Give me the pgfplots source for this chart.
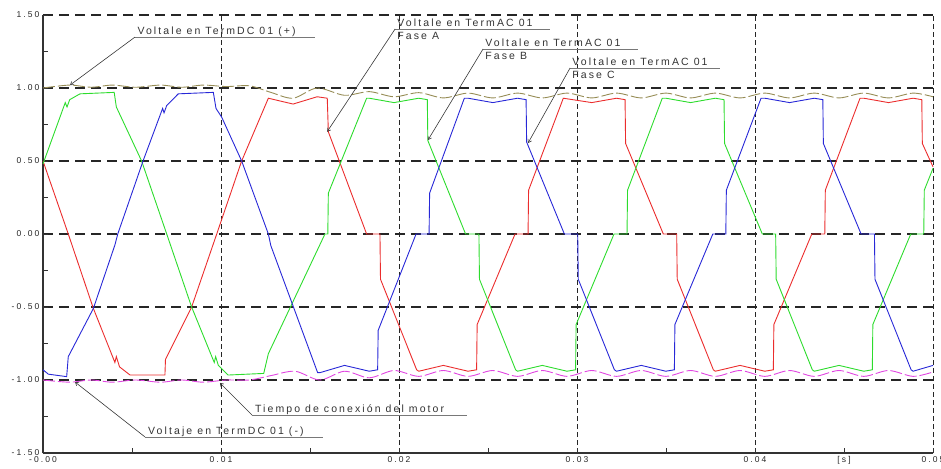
\documentclass[border=0pt]{standalone}
\usepackage{pgfplots}
\pgfplotsset{compat=1.18}
\usepackage{fontspec}
\setmainfont{Liberation Sans}
\newfontfamily\annfont{Liberation Sans}[LetterSpace=20]
\newfontfamily\tickfont{Liberation Sans}[LetterSpace=25]
\usetikzlibrary{arrows.meta}
\definecolor{ph1}{RGB}{235,45,45}
\definecolor{ph2}{RGB}{45,220,45}
\definecolor{ph3}{RGB}{40,40,215}
\definecolor{dcp}{RGB}{150,140,85}
\definecolor{dcm}{RGB}{225,70,225}
\definecolor{ann}{RGB}{55,55,55}
\definecolor{und}{RGB}{120,120,120}

\begin{document}
\begin{tikzpicture}
\begin{axis}[
 at={(0,0)}, anchor=south west,
 scale only axis, width=890pt, height=438pt,
 xmin=0, xmax=0.05, ymin=-1.5, ymax=1.5,
 axis lines*=left,
 axis line style={line width=1.2pt, black!80},
 xtick={0,0.01,0.02,0.03,0.04,0.05},
 xticklabels={-0.00,0.01,0.02,0.03,0.04,0.05},
 ytick={-1.5,-1,-0.5,0,0.5,1,1.5},
 yticklabels={-1.50,-1.00,-0.50,0.00,0.50,1.00,1.50},
 minor x tick num=1, minor y tick num=1,
 tick align=inside, major tick length=5pt, minor tick length=5pt,
 tick style={black!80, line width=0.8pt},
 xmajorgrids, ymajorgrids,
 x grid style={black!85, line width=1pt, dash pattern=on 5pt off 3pt},
 y grid style={black!85, line width=1.3pt, dash pattern=on 10pt off 6pt},
 ticklabel style={font=\tickfont\fontsize{8.5}{10}\selectfont, text=black!85},
 extra x ticks={0.045}, extra x tick labels={{[s]}},
 extra x tick style={grid=none},
 clip=false,
]
% DC+ 
\addplot[dcp, line width=0.9pt, dash pattern=on 12pt off 3pt, smooth, tension=0.5] coordinates {
(0,1.00)(0.0015,1.02)(0.0027,1.005)(0.0039,1.02)(0.0052,1.005)(0.0066,1.02)(0.0078,1.005)(0.009,1.02)(0.0103,1.01)(0.0116,1.015)(0.0128,0.97)(0.01405,0.93)(0.0154,1.00)(0.01694,0.95)(0.01833,0.975)(0.01972,0.94)(0.02111,0.968)
(0.02249,0.932)(0.02388,0.965)(0.02527,0.932)(0.02666,0.965)(0.02805,0.932)(0.02944,0.965)(0.03083,0.932)(0.03222,0.965)(0.03361,0.932)(0.03499,0.965)(0.03638,0.932)(0.03777,0.965)(0.03916,0.932)(0.04055,0.965)(0.04194,0.932)(0.04333,0.965)(0.04472,0.932)(0.04611,0.965)(0.0475,0.932)(0.04888,0.965)(0.05,0.94)
};
% DC-
\addplot[dcm, line width=0.9pt, dash pattern=on 12pt off 3pt, smooth, tension=0.5] coordinates {
(0,-1.00)(0.0015,-1.015)(0.0027,-1.0)(0.0039,-1.015)(0.0052,-1.0)(0.0066,-1.015)(0.0078,-1.0)(0.009,-1.015)(0.0103,-1.0)(0.0116,-1.0)(0.0128,-0.97)(0.01416,-0.94)(0.01555,-1.0)(0.01694,-0.94)(0.01833,-0.985)(0.01972,-0.935)(0.02111,-0.975)
(0.02249,-0.935)(0.02388,-0.975)(0.02527,-0.935)(0.02666,-0.975)(0.02805,-0.935)(0.02944,-0.975)(0.03083,-0.935)(0.03222,-0.975)(0.03361,-0.935)(0.03499,-0.975)(0.03638,-0.935)(0.03777,-0.975)(0.03916,-0.935)(0.04055,-0.975)(0.04194,-0.935)(0.04333,-0.975)(0.04472,-0.935)(0.04611,-0.975)(0.0475,-0.935)(0.04888,-0.975)(0.05,-0.945)
};
% Fase A (red)
\addplot[ph1, line width=0.9pt] coordinates {
(0,0.50)(0.00142,0.00)(0.00283,-0.51)(0.00404,-0.88)(0.00412,-0.84)(0.0043,-0.91)(0.00489,-0.966)(0.00685,-0.966)(0.00688,-0.86)(0.00835,-0.50)(0.00976,0.00)(0.01116,0.50)(0.01266,0.93)(0.01405,0.89)(0.0154,0.94)(0.01597,0.93)(0.01603,0.70)(0.01818,0.00)(0.01893,0.00)(0.01896,-0.31)(0.02099,-0.93)
(0.02111,-0.94)(0.02249,-0.90)(0.02388,-0.94)(0.02436,-0.93)(0.02439,-0.62)(0.02652,0)(0.02725,0)(0.02728,0.30)(0.02923,0.93)(0.03083,0.90)(0.03222,0.93)(0.0327,0.92)(0.03273,0.62)(0.03485,0)(0.0356,0)(0.03563,-0.31)(0.03766,-0.93)
(0.03777,-0.94)(0.03916,-0.90)(0.04055,-0.94)(0.04103,-0.93)(0.04106,-0.62)(0.04319,0)(0.04392,0)(0.04395,0.30)(0.0459,0.93)(0.04611,0.93)(0.0475,0.90)(0.04888,0.93)(0.04937,0.92)(0.0494,0.62)(0.05,0.46)
};
% Fase B (green)
\addplot[ph2, line width=0.9pt] coordinates {
(0,0.48)(0.00125,0.90)(0.00135,0.87)(0.0015,0.92)(0.00208,0.96)(0.0040,0.97)(0.00412,0.87)(0.00554,0.50)(0.00695,0.00)(0.00835,-0.50)(0.00962,-0.88)(0.0097,-0.84)(0.00985,-0.90)(0.0104,-0.966)(0.0124,-0.955)(0.01266,-0.82)(0.01584,0)(0.016,0)(0.01603,0.28)(0.01818,0.93)
(0.01833,0.93)(0.01972,0.90)(0.02111,0.93)(0.02159,0.92)(0.02162,0.64)(0.02374,0)(0.02449,0)(0.02452,-0.31)(0.02655,-0.93)(0.02666,-0.94)(0.02805,-0.90)(0.02944,-0.94)(0.02992,-0.93)(0.02995,-0.62)(0.03208,0)(0.03281,0)(0.03284,0.30)(0.03479,0.93)
(0.03499,0.93)(0.03638,0.90)(0.03777,0.93)(0.03826,0.92)(0.03829,0.62)(0.04041,0)(0.04116,0)(0.04119,-0.31)(0.04322,-0.93)(0.04333,-0.94)(0.04472,-0.90)(0.04611,-0.94)(0.04659,-0.93)(0.04662,-0.62)(0.04875,0)(0.04948,0)(0.04951,0.30)(0.05,0.45)
};
% Fase C (blue)
\addplot[ph3, line width=0.9pt] coordinates {
(0,-0.93)(0.0003,-0.96)(0.00133,-0.977)(0.00142,-0.84)(0.00283,-0.51)(0.00404,-0.075)(0.0042,0)(0.00562,0.50)(0.00672,0.86)(0.0068,0.83)(0.00695,0.88)(0.0076,0.96)(0.00957,0.97)(0.00972,0.86)(0.01004,0.80)(0.01116,0.50)(0.01266,0)(0.0128,-0.08)(0.01543,-0.95)
(0.01555,-0.95)(0.01694,-0.90)(0.01833,-0.94)(0.0188,-0.93)(0.01883,-0.66)(0.02096,0)(0.02169,0)(0.02172,0.28)(0.02367,0.93)(0.02388,0.93)(0.02527,0.90)(0.02666,0.93)(0.02714,0.92)(0.02717,0.63)(0.02929,0)(0.03004,0)(0.03007,-0.31)(0.0321,-0.93)
(0.03222,-0.94)(0.03361,-0.90)(0.03499,-0.94)(0.03547,-0.93)(0.0355,-0.62)(0.03763,0)(0.03836,0)(0.03839,0.30)(0.04034,0.93)(0.04055,0.93)(0.04194,0.90)(0.04333,0.93)(0.04381,0.92)(0.04384,0.62)(0.04596,0)(0.04671,0)(0.04674,-0.31)(0.04877,-0.93)(0.04888,-0.94)(0.05,-0.90)
};
% annotations
\tikzset{lead/.style={ann, line width=0.6pt, -{Straight Barb[length=3pt,width=4pt]}},
 ul/.style={und, line width=0.8pt},
 lab/.style={anchor=base west, inner sep=0pt, text=black!80, font=\annfont\fontsize{10.5}{12}\selectfont}}
% DC+
\draw[ul] (axis cs:0.00517,1.349) -- (axis cs:0.01528,1.349);
\node[lab] at (axis cs:0.0053,1.363) {Voltale en TermDC 01 (+)};
\draw[lead] (axis cs:0.00517,1.349) -- (axis cs:0.00152,1.02);
% Fase A
\draw[ul] (axis cs:0.01978,1.404) -- (axis cs:0.02848,1.404);
\node[lab] at (axis cs:0.0199,1.418) {Voltale en TermAC 01};
\node[lab] at (axis cs:0.0199,1.329) {Fase A};
\draw[lead] (axis cs:0.01978,1.404) -- (axis cs:0.01596,0.70);
% Fase B
\draw[ul] (axis cs:0.02472,1.267) -- (axis cs:0.03343,1.267);
\node[lab] at (axis cs:0.02484,1.281) {Voltale en TermAC 01};
\node[lab] at (axis cs:0.02484,1.192) {Fase B};
\draw[lead] (axis cs:0.02472,1.267) -- (axis cs:0.02163,0.644);
% Fase C
\draw[ul] (axis cs:0.02961,1.137) -- (axis cs:0.03803,1.137);
\node[lab] at (axis cs:0.02973,1.151) {Voltale en TermAC 01};
\node[lab] at (axis cs:0.02973,1.062) {Fase C};
\draw[lead] (axis cs:0.02961,1.137) -- (axis cs:0.02725,0.623);
% Tiempo
\draw[ul] (axis cs:0.01174,-1.240) -- (axis cs:0.02382,-1.240);
\node[lab] at (axis cs:0.0119,-1.226) {Tiempo de conexión del motor};
\draw[lead] (axis cs:0.01174,-1.240) -- (axis cs:0.00994,-1.02);
% DC-
\draw[ul] (axis cs:0.00573,-1.390) -- (axis cs:0.01573,-1.390);
\node[lab] at (axis cs:0.0059,-1.376) {Voltaje en TermDC 01 (-)};
\draw[lead] (axis cs:0.00573,-1.390) -- (axis cs:0.0018,-1.014);
\end{axis}
\pgfresetboundingbox
\path[use as bounding box] (-43pt,-15pt) rectangle (898pt,453pt);
\end{tikzpicture}
\end{document}
